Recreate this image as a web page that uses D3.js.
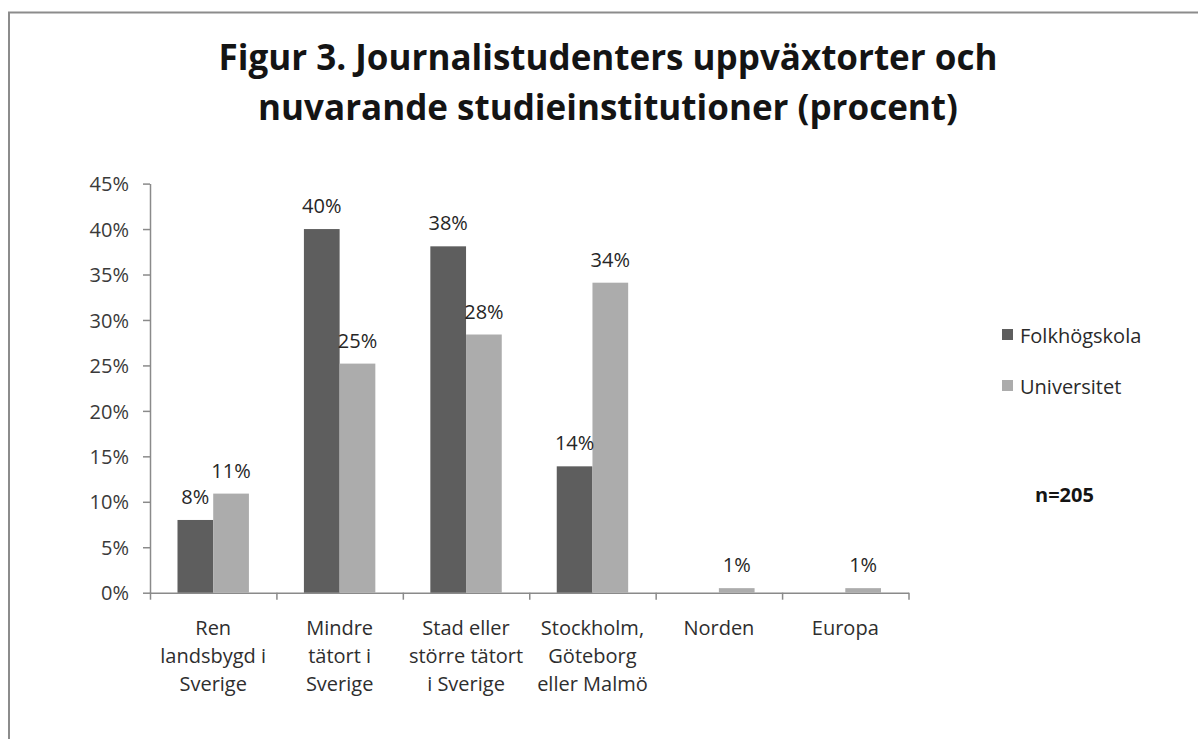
<!DOCTYPE html>
<html>
<head>
<meta charset="utf-8">
<script src="https://cdn.jsdelivr.net/npm/d3@7"></script>
<style>
  body { margin: 0; background: #fff; }
  svg text { font-family: "Open Sans", "DejaVu Sans", sans-serif; }
</style>
</head>
<body>
<script>
// chart data
const titleLines = ['Figur 3. Journalistudenters uppväxtorter och', 'nuvarande studieinstitutioner (procent)']
const categories = ['Ren\nlandsbygd i\nSverige', 'Mindre\ntätort i\nSverige', 'Stad eller\nstörre tätort\ni Sverige', 'Stockholm,\nGöteborg\neller Malmö', 'Norden', 'Europa']
const seriesNames = ['Folkhögskola', 'Universitet']
const folkhogskola = [8.0, 40.0, 38.1, 13.9, 0, 0]
const universitet = [10.9, 25.2, 28.4, 34.1, 0.5, 0.5]
const yTicks = [0, 5, 10, 15, 20, 25, 30, 35, 40, 45]
const note = 'n=205'

const colors = ['#5e5e5e', '#acacac']
const seriesValues = [folkhogskola, universitet]

var svg = d3.select('body').append('svg').attr('width', 1198).attr('height', 739)

// outer frame
svg.append('rect').attr('x', 9).attr('y', 12.5).attr('width', 1200).attr('height', 740)
  .attr('fill', 'none').style('stroke', '#8c8c8c').style('stroke-width', 2)

// title
svg.append('g').selectAll('text').data(titleLines).join('text')
  .attr('x', 608).attr('y', (d, i) => 69.5 + i * 50.5)
  .attr('text-anchor', 'middle')
  .style('font-size', '35px').style('font-weight', 'bold').attr('fill', '#141414')
  .text(d => d)

var x0 = d3.scaleBand().domain(categories).range([150, 908.5])
var x1 = d3.scaleBand().domain(seriesNames).range([0, x0.bandwidth()]).paddingOuter(0.77)
var y = d3.scaleLinear().domain([0, 45]).range([592.7, 183.6])

// y axis
var yAxis = svg.append('g').attr('transform', 'translate(150,0)')
  .call(d3.axisLeft(y).tickValues(yTicks).tickFormat(d => d + '%').tickSize(7).tickSizeOuter(0))
yAxis.selectAll('path,line').style('stroke', '#8a8a8a').style('stroke-width', 1.5)
yAxis.selectAll('text').style('font-size', '20px').attr('fill', '#3a3a3a').attr('x', -21).attr('dy', '0.36em')

// x axis: ticks on the category boundaries
var xb = d3.scaleLinear().domain([0, categories.length]).range(x0.range())
var xAxis = svg.append('g').attr('transform', 'translate(0,' + y(0) + ')')
  .call(d3.axisBottom(xb).tickValues(d3.range(categories.length + 1)).tickFormat('').tickSize(7).tickSizeOuter(0))
xAxis.selectAll('path,line').style('stroke', '#8a8a8a').style('stroke-width', 1.5)

// bars
var groups = svg.append('g').selectAll('g').data(categories).join('g')
  .attr('transform', d => 'translate(' + x0(d) + ',0)')

groups.selectAll('rect')
  .data((d, i) => seriesNames.map((s, j) => ({ s: s, v: seriesValues[j][i], j: j })))
  .join('rect')
  .attr('x', d => x1(d.s))
  .attr('y', d => y(d.v))
  .attr('width', x1.bandwidth())
  .attr('height', d => y(0) - y(d.v))
  .attr('fill', d => colors[d.j])

// data labels (no label where there is no bar)
groups.selectAll('text.lbl')
  .data((d, i) => seriesNames.map((s, j) => ({ s: s, v: seriesValues[j][i] })).filter(d => d.v > 0))
  .join('text').attr('class', 'lbl')
  .attr('x', d => x1(d.s) + x1.bandwidth() / 2)
  .attr('y', d => y(d.v) - 16)
  .attr('text-anchor', 'middle')
  .style('font-size', '20px').attr('fill', '#262626')
  .text(d => Math.round(d.v) + '%')

// category labels, wrapped like the original
var catLabels = svg.append('g').selectAll('text').data(categories).join('text')
  .attr('x', d => x0(d) + x0.bandwidth() / 2)
  .attr('y', y(0) + 42)
  .attr('text-anchor', 'middle')
  .style('font-size', '20px').attr('fill', '#2e2e2e')
catLabels.selectAll('tspan').data(d => d.split('\n')).join('tspan')
  .attr('x', function () { return d3.select(this.parentNode).attr('x') })
  .attr('dy', (d, i) => i === 0 ? 0 : 28.3)
  .text(d => d)

// legend
var legend = svg.append('g').selectAll('g').data(seriesNames).join('g')
  .attr('transform', (d, i) => 'translate(1002,' + (329 + i * 51) + ')')
legend.append('rect').attr('width', 11).attr('height', 11).attr('fill', (d, i) => colors[i])
legend.append('text').attr('x', 18).attr('y', 13.5)
  .style('font-size', '20px').attr('fill', '#2a2a2a')
  .text(d => d)

svg.append('text').attr('x', 1035).attr('y', 502)
  .style('font-size', '20px').style('font-weight', 'bold').attr('fill', '#141414')
  .text(note)
</script>
</body>
</html>
